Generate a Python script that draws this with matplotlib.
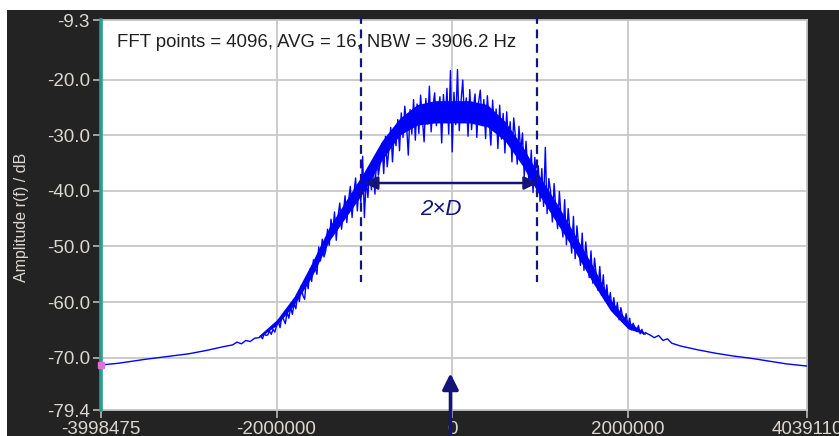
import numpy as np
import matplotlib
matplotlib.use("Agg")
from matplotlib import pyplot as plt
from matplotlib.patches import Rectangle

plt.rcParams['font.family'] = ['Liberation Sans', 'DejaVu Sans']

# axis limits / ticks
x_min, x_max = -3998475, 4039110
y_min, y_max = -79.4, -9.3
x_ticks = [-3998475, -2000000, 0, 2000000, 4039110]
x_tick_labels = ['-3998475', '-2000000', '0', '2000000', '4039110']
y_ticks = [-9.3, -20.0, -30.0, -40.0, -50.0, -60.0, -70.0, -79.4]
y_tick_labels = ['-9.3', '-20.0', '-30.0', '-40.0', '-50.0', '-60.0', '-70.0', '-79.4']

# smooth tails of the spectrum (Hz, dB)
left_tail_freq = [-3998475, -3800000, -3500000, -3200000, -3000000, -2800000, -2600000,
                  -2500000, -2450000, -2400000, -2350000, -2300000, -2250000]
left_tail_amp = [-71.3, -71.0, -70.3, -69.7, -69.3, -68.7, -68.0,
                 -67.7, -67.2, -67.5, -66.9, -67.1, -66.5]
right_tail_freq = [2250000, 2300000, 2350000, 2400000, 2450000, 2500000, 2600000,
                   2800000, 3000000, 3200000, 3400000, 3800000, 4039110]
right_tail_amp = [-65.9, -66.4, -66.0, -66.9, -66.6, -67.4, -67.9,
                  -68.6, -69.2, -69.7, -70.1, -71.1, -71.5]

# noisy band, one value every 20 kHz from -2.2 MHz to +2.2 MHz
band_start, band_step = -2200000, 20000
band_amp = [
    -66.4, -66.1, -66.6, -65.7, -66.0, -65.9, -65.2, -65.8, -64.9, -65.4,
    -64.2, -63.5, -64.6, -62.6, -63.1, -63.9, -61.8, -62.9, -60.9, -62.2,
    -60.3, -61.2, -58.4, -59.9, -57.1, -58.8, -59.5, -55.8, -57.6, -54.1,
    -56.3, -52.4, -53.8, -55.0, -50.1, -52.6, -48.7, -51.9, -50.8, -46.9,
    -49.8, -45.1, -47.6, -43.8, -48.9, -44.6, -42.2, -46.9, -44.0, -40.9,
    -45.7, -41.8, -39.2, -44.8, -40.5, -37.7, -43.6, -38.9, -42.1, -33.8,
    -44.8, -38.1, -41.2, -36.0, -39.8, -35.2, -40.6, -33.4, -37.2, -34.9,
    -31.5, -36.9, -30.2, -35.7, -32.4, -28.6, -34.8, -29.3, -31.9, -27.2,
    -32.8, -26.0, -30.4, -24.8, -28.1, -33.6, -25.4, -29.8, -23.6, -30.9,
    -24.4, -29.7, -22.8, -27.1, -31.2, -23.4, -28.0, -21.2, -29.4, -24.9,
    -22.4, -28.3, -25.6, -23.1, -31.4, -22.7, -27.6, -21.6, -29.8, -18.4,
    -33.0, -22.3, -28.1, -18.2, -29.2, -24.0, -20.1, -27.7, -23.3, -30.2,
    -21.8, -29.0, -25.2, -22.6, -30.4, -24.1, -21.9, -28.3, -23.6, -30.6,
    -22.9, -27.4, -31.8, -23.7, -29.1, -25.3, -32.4, -24.6, -30.7, -26.1,
    -33.2, -25.8, -31.5, -27.6, -34.8, -26.9, -30.3, -35.2, -28.4, -33.1,
    -29.6, -37.4, -31.1, -36.2, -38.9, -32.7, -40.3, -34.0, -37.8, -35.5,
    -41.9, -36.0, -42.8, -32.2, -44.1, -37.8, -40.2, -45.6, -38.7, -43.4,
    -46.8, -40.1, -44.9, -48.3, -41.6, -49.7, -43.2, -47.1, -51.2, -44.6,
    -52.2, -46.3, -50.1, -53.4, -47.6, -54.3, -49.2, -52.7, -55.6, -50.8,
    -56.6, -52.1, -55.2, -57.9, -53.6, -58.8, -55.1, -59.7, -56.9, -60.4,
    -58.3, -61.4, -59.2, -62.3, -60.1, -63.2, -61.0, -62.6, -63.8, -62.1,
    -64.3, -62.9, -65.0, -63.8, -64.6, -65.3, -64.2, -65.7, -64.9, -65.8,
    -65.5,
]
band_freq = band_start + band_step * np.arange(len(band_amp))

# solid core of the noisy band (dense FFT bins), every 200 kHz
core_freq = [-2200000, -2000000, -1800000, -1600000, -1400000, -1200000, -1000000, -800000,
             -600000, -400000, -200000, 0, 200000, 400000, 600000, 800000, 1000000,
             1200000, 1400000, 1600000, 1800000, 2000000, 2200000]
core_upper = [-66.0, -63.2, -59.0, -53.0, -46.5, -41.5, -36.5, -31.0, -27.0, -24.5, -23.8,
              -23.8, -23.8, -24.5, -27.5, -32.0, -37.5, -42.5, -48.0, -53.5, -59.5, -63.5, -65.6]
core_lower = [-66.4, -64.2, -60.5, -55.5, -49.0, -44.5, -40.0, -34.5, -30.0, -28.2, -27.8,
              -27.8, -27.8, -28.5, -31.0, -35.5, -41.0, -46.0, -51.0, -56.5, -61.5, -64.8, -65.8]

freq = np.concatenate([left_tail_freq, band_freq, right_tail_freq])
amp = np.concatenate([left_tail_amp, band_amp, right_tail_amp])

# markers / annotation
bw_left, bw_right = -1040000, 970000
bw_level = -38.6
info_text = 'FFT points = 4096, AVG = 16, NBW = 3906.2 Hz'

dark = '#232323'
tick_col = '#dcd8d0'
navy = '#14147a'
blue = '#0000ff'

fig = plt.figure(figsize=(8.39, 4.36), dpi=100, facecolor='white')
fig.patches.append(Rectangle((7 / 839, 0), 1, 1 - 10 / 436, transform=fig.transFigure,
                             facecolor=dark, edgecolor='none', zorder=-5))
ax = fig.add_axes([101 / 839, 26 / 436, 706 / 839, 390 / 436])
ax.set_zorder(2)
ax.set_facecolor('white')

ax.fill_between(core_freq, core_lower, core_upper, color=blue, lw=0, zorder=3)
ax.plot(freq, amp, color=blue, lw=1.0, zorder=3)

ax.set_xlim(x_min, x_max)
ax.set_ylim(y_min, y_max)
ax.set_xticks(x_ticks)
ax.set_xticklabels(x_tick_labels)
ax.set_yticks(y_ticks)
ax.set_yticklabels(y_tick_labels)
ax.tick_params(colors='#b8b8b8', labelcolor=tick_col, labelsize=13.5, length=6, width=1.2, pad=2)
ax.grid(True, color='#c8c8c8', lw=1.3, zorder=1)
for sp in ax.spines.values():
    sp.set_color('#c8c8c8')
    sp.set_linewidth(1.3)

# left cursor line + marker
ax.axvline(x_min, color='#2e9c8c', lw=2.6, zorder=4, clip_on=False)
ax.plot([x_min], [left_tail_amp[0]], marker='s', ms=4, color='#e070e0', zorder=5, clip_on=False)

# bandwidth lines and 2xD arrow
for xv in (bw_left, bw_right):
    ax.plot([xv, xv], [-8.4, -56.4], color=navy, lw=1.6, ls=(0, (4, 2.5)), zorder=4, clip_on=False)
ax.annotate('', xy=(bw_left + 40000, bw_level), xytext=(bw_right, bw_level),
            arrowprops=dict(arrowstyle='<|-|>', color=navy, lw=1.8, mutation_scale=20,
                            shrinkA=0, shrinkB=0), zorder=5)
ax.text(-125000, -43.4, '2×D', color=navy, fontsize=16, style='italic',
        ha='center', va='center', zorder=5)

# centre arrow from below the axis
ax.annotate('', xy=(-20000, -72.8), xytext=(-20000, -83.8),
            arrowprops=dict(arrowstyle='-|>', color=navy, lw=2.5, mutation_scale=24,
                            shrinkA=0, shrinkB=0), annotation_clip=False, zorder=6)

ax.text(0.023, 0.965, info_text, transform=ax.transAxes, fontsize=13.4, color='#202020',
        ha='left', va='top', zorder=5)

fig.text(22 / 839, 0.502, 'Amplitude r(f) / dB', rotation=90, color=tick_col,
         fontsize=11.5, ha='center', va='center')

fig.savefig('out.png', dpi=100, facecolor=fig.get_facecolor())
